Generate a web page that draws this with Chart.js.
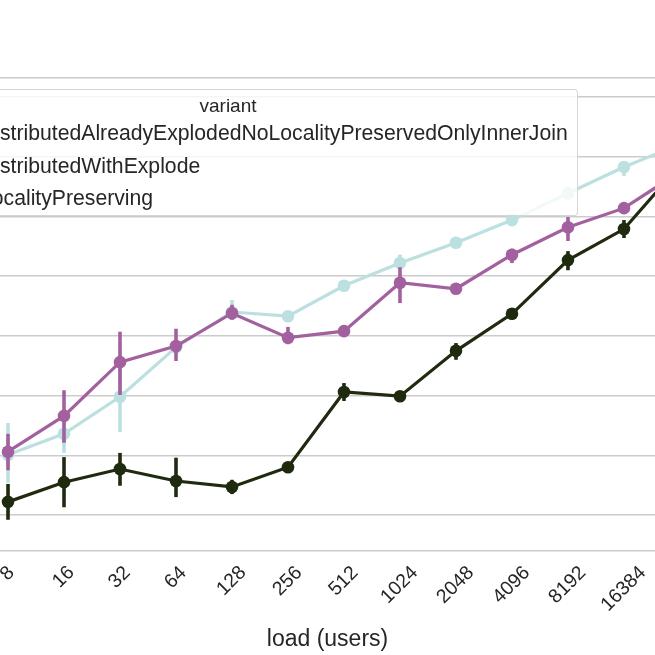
<!DOCTYPE html>
<html><head><meta charset="utf-8">
<script src="https://cdn.jsdelivr.net/npm/chart.js@4/dist/chart.umd.min.js"></script>
<style>
html,body{margin:0;padding:0;background:#fff;overflow:hidden;width:655px;height:655px;}
#wrap{position:relative;width:655px;height:655px;overflow:hidden;}
#c{position:absolute;left:0;top:0;}
#legend{position:absolute;left:-122px;top:89px;width:700px;height:127px;box-sizing:border-box;border:1px solid rgba(204,204,204,0.8);border-radius:4px;background:rgba(255,255,255,0.8);font-family:"Liberation Sans",Arial,sans-serif;color:#262626;}
#legend .t{position:absolute;left:0;right:0;text-align:center;font-size:19px;height:24px;line-height:24px;top:4px;}
#legend .e{position:absolute;left:101px;font-size:21.2px;height:26px;line-height:26px;white-space:nowrap;}
#legend .h{position:absolute;left:40px;width:42px;height:3px;}
#legend .m{position:absolute;left:55px;width:12px;height:12px;border-radius:6px;}
</style></head>
<body><div id="wrap"><canvas id="c" width="655" height="655"></canvas><div id="legend"></div></div>
<script>
// ---- data ----
const categories = ['8','16','32','64','128','256','512','1024','2048','4096','8192','16384','32768'];
const seriesNames = ['DistributedAlreadyExplodedNoLocalityPreservedOnlyInnerJoin','DistributedWithExplode','LocalityPreserving'];
const seriesColors = ['#bbe0df','#a3609e','#1f2a0f'];
// mean values (y axis labels are outside the visible crop; arbitrary units, one grid step = 1)
const explodedInnerJoin = [2.01,2.36,2.98,3.81,4.40,4.33,4.84,5.22,5.56,5.94,6.39,6.83,7.21];
const explodedInnerJoinLo = [1.54,2.04,2.39,3.70,4.30,4.27,4.77,5.12,5.49,5.87,6.29,6.68,7.11];
const explodedInnerJoinHi = [2.54,2.59,3.56,3.93,4.60,4.40,4.90,5.36,5.62,6.01,6.49,6.93,7.31];
const withExplode = [2.06,2.66,3.56,3.83,4.38,3.97,4.08,4.89,4.79,5.36,5.82,6.14,6.75];
const withExplodeLo = [1.75,2.21,3.01,3.58,4.27,3.86,4.00,4.55,4.72,5.22,5.59,6.08,6.65];
const withExplodeHi = [2.36,3.09,4.07,4.12,4.52,4.15,4.17,5.15,4.85,5.46,5.99,6.21,6.85];
const localityPreserving = [1.22,1.55,1.77,1.57,1.47,1.80,3.06,2.99,3.75,4.37,5.27,5.79,6.86];
const localityPreservingLo = [0.92,1.13,1.49,1.30,1.35,1.74,2.91,2.93,3.60,4.28,5.10,5.64,6.75];
const localityPreservingHi = [1.52,1.97,2.04,1.96,1.59,1.87,3.21,3.06,3.88,4.45,5.42,5.94,6.98];
const yGridTicks = [1,2,3,4,5,6,7,8];
const xLabel = 'load (users)';
const legendTitle = 'variant';

const means = [explodedInnerJoin, withExplode, localityPreserving];
const los = [explodedInnerJoinLo, withExplodeLo, localityPreservingLo];
const his = [explodedInnerJoinHi, withExplodeHi, localityPreservingHi];

// legend (HTML, real text)
const lg = document.getElementById('legend');
let html = '<div class="t">' + legendTitle + '</div>';
const centers = [42.5, 75.5, 107.5];
seriesNames.forEach((n, i) => {
  const c = centers[i];
  html += '<div class="h" style="top:' + (c - 2.5) + 'px;background:' + seriesColors[i] + '"></div>';
  html += '<div class="m" style="top:' + (c - 7) + 'px;background:' + seriesColors[i] + '"></div>';
  html += '<div class="e" style="top:' + (c - 13) + 'px">' + n + '</div>';
});
lg.innerHTML = html;

// draw order: first dataset on top in Chart.js, so reverse
const order = [2, 1, 0];
const datasets = order.map(k => ({
  label: seriesNames[k],
  data: means[k].map((v, i) => ({x: i, y: v})),
  borderColor: seriesColors[k],
  backgroundColor: seriesColors[k],
  borderWidth: 3.2,
  pointRadius: 6.3,
  pointBorderWidth: 0,
  pointHoverRadius: 6.3,
  tension: 0,
  seriesIndex: k
}));

const errorBars = {
  id: 'errorBars',
  afterDatasetDraw(chart, args) {
    const ds = chart.data.datasets[args.index];
    const k = ds.seriesIndex;
    const xs = chart.scales.x, ys = chart.scales.y, ca = chart.chartArea;
    const ctx = chart.ctx;
    ctx.save();
    ctx.beginPath();
    ctx.rect(ca.left, ca.top, ca.right - ca.left, ca.bottom - ca.top);
    ctx.clip();
    ctx.strokeStyle = seriesColors[k];
    ctx.lineWidth = 3.6;
    ctx.lineCap = 'butt';
    for (let i = 0; i < categories.length; i++) {
      const x = xs.getPixelForValue(i);
      ctx.beginPath();
      ctx.moveTo(x, ys.getPixelForValue(los[k][i]));
      ctx.lineTo(x, ys.getPixelForValue(his[k][i]));
      ctx.stroke();
    }
    ctx.restore();
  }
};

const xTickLabels = {
  id: 'xTickLabels',
  afterDraw(chart) {
    const ctx = chart.ctx, xs = chart.scales.x, ca = chart.chartArea;
    ctx.save();
    ctx.fillStyle = '#262626';
    ctx.font = '19.5px "Liberation Sans", Arial, sans-serif';
    const a = Math.PI / 4;
    const top = ca.bottom + 13;
    categories.forEach((lab, i) => {
      const m = ctx.measureText(lab);
      const w = m.actualBoundingBoxRight + m.actualBoundingBoxLeft;
      const h = m.actualBoundingBoxAscent;
      const bh = (w + h) * Math.sin(a);
      const cx = xs.getPixelForValue(i) - 1.5;
      const cy = top + bh / 2;
      ctx.save();
      ctx.translate(cx, cy);
      ctx.rotate(-a);
      ctx.textAlign = 'center';
      ctx.textBaseline = 'alphabetic';
      ctx.fillText(lab, 0, h / 2);
      ctx.restore();
    });
    ctx.font = '23px "Liberation Sans", Arial, sans-serif';
    ctx.textAlign = 'center';
    ctx.textBaseline = 'alphabetic';
    ctx.fillText(xLabel, (ca.left + ca.right) / 2, 646);
    ctx.restore();
  }
};

new Chart(document.getElementById('c'), {
  type: 'line',
  data: {datasets},
  options: {
    responsive: false,
    animation: false,
    devicePixelRatio: 1,
    layout: {autoPadding: false, padding: {top: 78, bottom: 104, left: 0, right: 0}},
    plugins: {legend: {display: false}, tooltip: {enabled: false}},
    scales: {
      x: {
        type: 'linear',
        min: -0.143,
        max: 11.554,
        grid: {display: false, drawTicks: false},
        border: {display: true, color: '#cccccc', width: 1.5},
        ticks: {display: false}
      },
      y: {
        type: 'linear',
        min: 0.397,
        max: 8.32,
        afterFit: s => { s.width = 0; },
        afterBuildTicks: s => { s.ticks = yGridTicks.concat([8.32]).map(v => ({value: v})); },
        grid: {color: '#cccccc', lineWidth: 1.5, drawTicks: false},
        border: {display: false},
        ticks: {display: false}
      }
    }
  },
  plugins: [errorBars, xTickLabels]
});
</script>
</body></html>
